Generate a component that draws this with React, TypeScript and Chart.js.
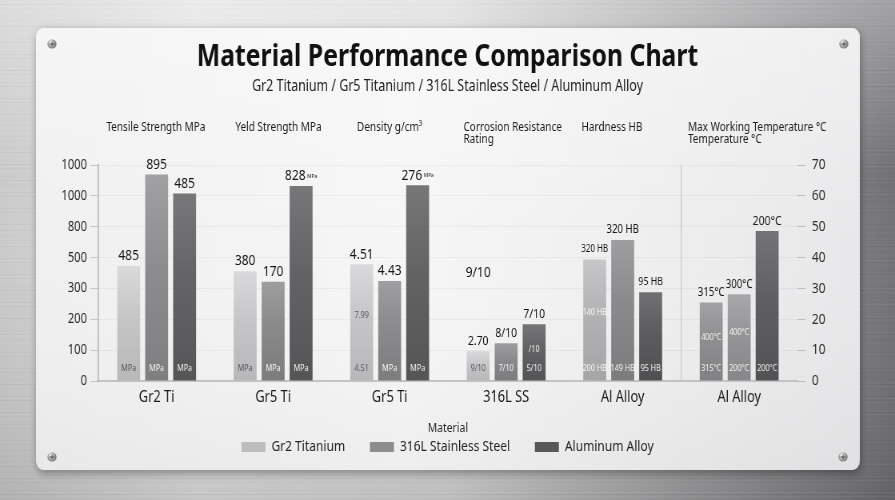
import { useEffect, useRef } from 'react';
import { Chart, registerables } from 'chart.js';

Chart.register(...registerables);

const FONT = "'Noto Sans', 'Open Sans', sans-serif";
Chart.defaults.font.family = FONT;

// ---- data -------------------------------------------------------------
const CATEGORIES = ['Gr2 Ti', 'Gr5 Ti', 'Gr5 Ti', '316L SS', 'Al Alloy', 'Al Alloy'];
const PROPERTY_HEADERS = [
  ['Tensile Strength MPa'],
  ['Yeld Strength MPa'],
  ['Density g/cm³'],
  ['Corrosion Resistance', 'Rating'],
  ['Hardness HB'],
  ['Max Working Temperature °C', 'Temperature °C'],
];
const SERIES_NAMES = ['Gr2 Titanium', '316L Stainless Steel', 'Aluminum Alloy'];

// bar heights on the shared 0–70 scale
const GR2_VALUES = [37.3, 35.6, 37.8, 9.7, 39.4, 25.4];
const SS316L_VALUES = [66.9, 32.2, 32.4, 12.2, 45.7, 28.1];
const ALUMINUM_VALUES = [60.8, 63.2, 63.4, 18.4, 28.8, 48.6];

const LEFT_TICK_LABELS = ['0', '100', '200', '300', '500', '800', '1000', '1000'];

// annotations printed above each bar
const GR2_TOP = ['485', '380', '4.51', '2.70', '320 HB', '315°C'];
const SS316L_TOP = ['895', '170', '4.43', '8/10', '320 HB', '300°C'];
const ALUMINUM_TOP = ['485', '828', '276', '7/10', '95 HB', '200°C'];
const ALUMINUM_TOP_UNIT = ['', 'MPa', 'MPa', '', '', ''];

// annotations printed inside each bar, near the base
const GR2_BASE = ['MPa', 'MPa', '4.51', '9/10', '200 HB', '315°C'];
const SS316L_BASE = ['MPa', 'MPa', 'MPa', '7/10', '149 HB', '200°C'];
const ALUMINUM_BASE = ['MPa', 'MPa', 'MPa', '5/10', '95 HB', '200°C'];

// annotations printed inside each bar, mid-height
const GR2_MID = ['', '', '7.99', '', '140 HB', '400°C'];
const SS316L_MID = ['', '', '', '', '', '400°C'];
const ALUMINUM_MID = ['', '', '', '/10', '', ''];

const CORROSION_NOTE = '9/10';
const CORROSION_NOTE_AT = 35;

// ---- styling ------------------------------------------------------------
const CANVAS_W = 1119;
const CANVAS_H = 500;
const SQUEEZE = 895 / CANVAS_W;

const GR2_FILL = ['#c6c6c8', '#c6c6c8', '#c6c6c8', '#c6c6c8', '#b3b3b5', '#8f8f91'];
const SS316L_FILL = ['#8d8d8f', '#8a8a8c', '#8b8b8d', '#8a8a8c', '#8a8a8c', '#959597'];
const ALUMINUM_FILL = ['#646466', '#636365', '#636365', '#626264', '#5d5d5f', '#606062'];
const LEGEND_SWATCH = ['#bdbdbf', '#8d8d8f', '#58585a'];

// font sizes of the labels above the bars: [group][series]
const TOP_FONT = [
  [15, 15, 15],
  [15, 15, 15],
  [15, 15, 15],
  [13, 13, 13],
  [10, 12, 11],
  [12, 12, 13],
];
const HEADER_SHIFT = [-1, 6.6, 0, -53.4, -13.4, -64];

const TOPS = [GR2_TOP, SS316L_TOP, ALUMINUM_TOP];
const BASES = [GR2_BASE, SS316L_BASE, ALUMINUM_BASE];
const MIDS = [GR2_MID, SS316L_MID, ALUMINUM_MID];
const FILLS = [GR2_FILL, SS316L_FILL, ALUMINUM_FILL];

function rgb(hex: string) {
  const n = parseInt(hex.slice(1), 16);
  return [(n >> 16) & 255, (n >> 8) & 255, n & 255];
}
function shade(hex: string, amt: number) {
  const [r, g, b] = rgb(hex).map((c) => Math.max(0, Math.min(255, c + amt)));
  return `rgb(${r},${g},${b})`;
}
function brightness(hex: string) {
  const [r, g, b] = rgb(hex);
  return 0.299 * r + 0.587 * g + 0.114 * b;
}

function barFill(base: string[]) {
  return (c: any) => {
    const color = base[c.dataIndex] ?? base[0];
    const chart = c.chart;
    if (!chart.chartArea || c.type !== 'data') return color;
    const ys = chart.scales.y;
    const top = ys.getPixelForValue(c.raw);
    const bottom = ys.getPixelForValue(0);
    if (!isFinite(top) || bottom - top < 1) return color;
    const g = chart.ctx.createLinearGradient(0, top, 0, bottom);
    g.addColorStop(0, shade(color, 20));
    g.addColorStop(0.45, color);
    g.addColorStop(1, shade(color, -14));
    return g;
  };
}

// brushed-metal backdrop and the mounted white panel
const backdrop = {
  id: 'backdrop',
  beforeDraw(chart: any) {
    const { ctx, width, height } = chart;
    ctx.save();
    const h = ctx.createLinearGradient(0, 0, width, 0);
    h.addColorStop(0, '#cbcbcc');
    h.addColorStop(0.22, '#e2e2e3');
    h.addColorStop(0.5, '#d9d9da');
    h.addColorStop(0.75, '#a6a6a8');
    h.addColorStop(1, '#727276');
    ctx.fillStyle = h;
    ctx.fillRect(0, 0, width, height);
    const v = ctx.createLinearGradient(0, 0, 0, height);
    v.addColorStop(0, 'rgba(255,255,255,0.35)');
    v.addColorStop(0.35, 'rgba(255,255,255,0)');
    v.addColorStop(1, 'rgba(0,0,0,0.12)');
    ctx.fillStyle = v;
    ctx.fillRect(0, 0, width, height);
    for (let y = 0; y < height; y += 2) {
      const a = 0.05 * Math.sin(y * 1.37) * Math.sin(y * 0.23 + 1);
      ctx.fillStyle = a > 0 ? `rgba(255,255,255,${a})` : `rgba(0,0,0,${-a * 0.8})`;
      ctx.fillRect(0, y, width, 1);
    }

    const px = 45, py = 28, pw = 1030, ph = 442;
    ctx.shadowColor = 'rgba(0,0,0,0.35)';
    ctx.shadowBlur = 10;
    ctx.shadowOffsetY = 3;
    ctx.shadowOffsetX = 1;
    const p = ctx.createLinearGradient(px, 0, px + pw, 0);
    p.addColorStop(0, '#f0f0f0');
    p.addColorStop(0.45, '#f6f6f6');
    p.addColorStop(1, '#e8e8ea');
    ctx.fillStyle = p;
    ctx.beginPath();
    ctx.roundRect(px, py, pw, ph, 9);
    ctx.fill();
    ctx.shadowColor = 'transparent';
    const pv = ctx.createLinearGradient(0, py, 0, py + ph);
    pv.addColorStop(0, 'rgba(255,255,255,0.35)');
    pv.addColorStop(0.5, 'rgba(255,255,255,0)');
    pv.addColorStop(1, 'rgba(0,0,0,0.03)');
    ctx.fillStyle = pv;
    ctx.fill();

    const screws = [[65, 44], [1055, 44], [65, 457], [1054, 457]];
    for (const [sx, sy] of screws) {
      const rg = ctx.createRadialGradient(sx - 2, sy - 2, 0.5, sx, sy, 6);
      rg.addColorStop(0, '#f4f4f4');
      rg.addColorStop(0.6, '#a4a4a6');
      rg.addColorStop(1, '#5a5a5c');
      ctx.fillStyle = rg;
      ctx.beginPath();
      ctx.ellipse(sx, sy, 5.6, 4.5, 0, 0, Math.PI * 2);
      ctx.fill();
      ctx.strokeStyle = '#4a4a4c';
      ctx.lineWidth = 1;
      ctx.beginPath();
      ctx.moveTo(sx - 3, sy);
      ctx.lineTo(sx + 3, sy);
      ctx.moveTo(sx, sy - 2.5);
      ctx.lineTo(sx, sy + 2.5);
      ctx.stroke();
    }
    ctx.restore();
  },
};

// property headers and the value notes on/in the bars
const barNotes = {
  id: 'barNotes',
  afterDatasetsDraw(chart: any) {
    const { ctx, chartArea } = chart;
    const xs = chart.scales.x;
    const ys = chart.scales.y;
    const zero = ys.getPixelForValue(0);
    ctx.save();
    ctx.textBaseline = 'middle';

    ctx.fillStyle = '#1c1c1c';
    ctx.font = `12.5px ${FONT}`;
    PROPERTY_HEADERS.forEach((lines, i) => {
      const cx = xs.getPixelForValue(i) + HEADER_SHIFT[i];
      ctx.textAlign = lines.length > 1 ? 'left' : 'center';
      lines.forEach((t, k) => ctx.fillText(t, cx, chartArea.top - 38 + k * 12));
    });

    chart.data.datasets.forEach((_ds: any, d: number) => {
      chart.getDatasetMeta(d).data.forEach((bar: any, i: number) => {
        const { x: bx, y: by } = bar.getProps(['x', 'y'], true);
        const h = zero - by;

        // label above the bar
        ctx.fillStyle = '#151515';
        const size = TOP_FONT[i][d];
        const main = TOPS[d][i];
        const unit = d === 2 ? ALUMINUM_TOP_UNIT[i] : '';
        ctx.font = `${size}px ${FONT}`;
        const w1 = ctx.measureText(main).width;
        if (unit) {
          ctx.font = `6px ${FONT}`;
          const w2 = ctx.measureText(unit).width;
          const start = bx - (w1 + 2 + w2) / 2;
          ctx.textAlign = 'left';
          ctx.font = `${size}px ${FONT}`;
          ctx.fillText(main, start, by - 10);
          ctx.font = `6px ${FONT}`;
          ctx.fillText(unit, start + w1 + 2, by - 10);
        } else {
          ctx.textAlign = 'center';
          ctx.fillText(main, bx, by - 10);
        }

        // labels inside the bar
        const fill = FILLS[d][i];
        ctx.fillStyle = brightness(fill) > 185 ? '#58585a' : 'rgba(255,255,255,0.92)';
        ctx.textAlign = 'center';
        ctx.font = `9px ${FONT}`;
        ctx.fillText(BASES[d][i], bx, zero - 13);
        if (MIDS[d][i]) ctx.fillText(MIDS[d][i], bx, zero - h * 0.56);
      });
    });

    const noteBar = chart.getDatasetMeta(0).data[3];
    ctx.fillStyle = '#151515';
    ctx.textAlign = 'center';
    ctx.font = `15px ${FONT}`;
    ctx.fillText(CORROSION_NOTE, noteBar.x, ys.getPixelForValue(CORROSION_NOTE_AT));
    ctx.restore();
  },
};

export default function App() {
  const ref = useRef<HTMLCanvasElement>(null);

  useEffect(() => {
    document.body.style.margin = '0';
    document.body.style.overflow = 'hidden';
    const values = [GR2_VALUES, SS316L_VALUES, ALUMINUM_VALUES];
    const chart = new Chart(ref.current as HTMLCanvasElement, {
      type: 'bar',
      data: {
        labels: CATEGORIES,
        datasets: SERIES_NAMES.map((name, d) => ({
          label: name,
          data: values[d],
          backgroundColor: barFill(FILLS[d]),
          borderWidth: 0,
          categoryPercentage: 0.72,
          barPercentage: 0.82,
        })),
      },
      options: {
        responsive: false,
        animation: false,
        layout: { padding: { top: 0, bottom: 35.5, left: 0, right: 0 } },
        plugins: {
          title: {
            display: true,
            text: 'Material Performance Comparison Chart',
            color: '#111111',
            font: { size: 31, weight: 'bold' },
            padding: { top: 38.4, bottom: 0 },
          },
          subtitle: {
            display: true,
            text: 'Gr2 Titanium / Gr5 Titanium / 316L Stainless Steel / Aluminum Alloy',
            color: '#222222',
            font: { size: 15.5 },
            padding: { top: 2.1, bottom: 68.7 },
          },
          legend: {
            position: 'bottom',
            labels: {
              boxWidth: 30,
              boxHeight: 10,
              padding: 31,
              color: '#222222',
              font: { size: 15 },
              generateLabels: (c: any) =>
                Chart.defaults.plugins.legend.labels
                  .generateLabels(c)
                  .map((item: any, i: number) => ({
                    ...item,
                    fillStyle: LEGEND_SWATCH[i],
                    strokeStyle: LEGEND_SWATCH[i],
                    lineWidth: 0,
                  })),
            },
          },
          tooltip: { enabled: false },
        },
        scales: {
          x: {
            offset: true,
            grid: {
              offset: true,
              drawTicks: false,
              lineWidth: 1.5,
              color: (c: any) => (c.index === 5 ? '#d0d0d2' : 'rgba(0,0,0,0)'),
            },
            border: { color: '#c3c3c5', width: 2 },
            ticks: { color: '#1a1a1a', font: { size: 16 }, padding: 6.4 },
            title: {
              display: true,
              text: 'Material',
              color: '#2a2a2a',
              font: { size: 13 },
              padding: { top: 7.2, bottom: -27.3 },
            },
          },
          y: {
            position: 'left',
            min: 0,
            max: 70,
            ticks: {
              stepSize: 10,
              color: '#2b2b2b',
              font: { size: 14 },
              padding: 4.25,
              callback: (_v: any, i: number) => LEFT_TICK_LABELS[i],
            },
            grid: { color: 'rgba(0,0,0,0.04)', tickLength: 10, tickColor: '#c6c6c8' },
            border: { color: '#b2b2b4', width: 1.5 },
            afterFit: (s: any) => {
              s.width = 123;
            },
          },
          y2: {
            position: 'right',
            min: 0,
            max: 70,
            ticks: { stepSize: 10, color: '#2b2b2b', font: { size: 15 }, padding: 8 },
            grid: { drawOnChartArea: false, tickLength: 10, tickColor: '#bdbdbf' },
            border: { display: false },
            afterFit: (s: any) => {
              s.width = 122;
            },
          },
        },
      },
      plugins: [backdrop, barNotes],
    } as any);
    return () => chart.destroy();
  }, []);

  return (
    <div
      style={{
        position: 'fixed',
        left: 0,
        top: 0,
        width: CANVAS_W,
        height: CANVAS_H,
        transform: `scaleX(${SQUEEZE})`,
        transformOrigin: '0 0',
      }}
    >
      <canvas ref={ref} width={CANVAS_W} height={CANVAS_H} style={{ display: 'block' }} />
    </div>
  );
}
